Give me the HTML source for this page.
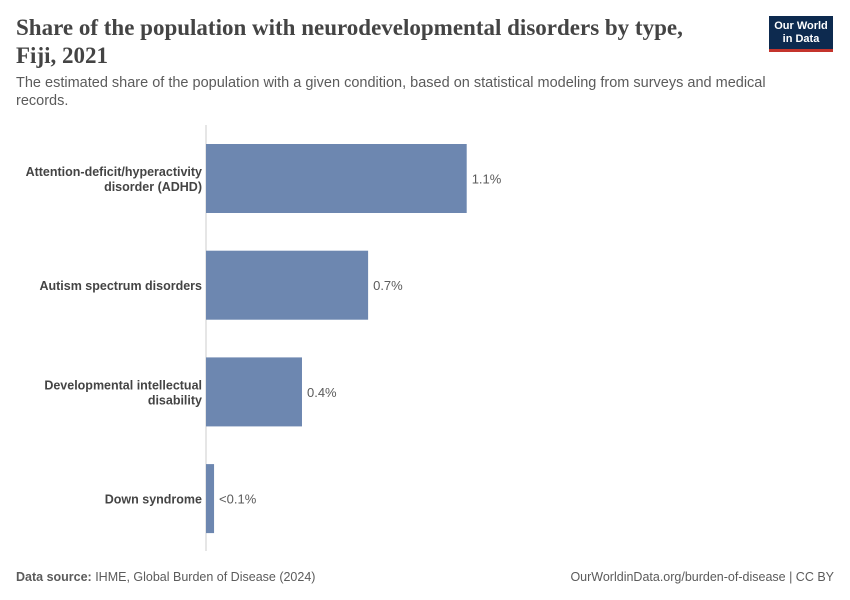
<!DOCTYPE html>
<html><head><meta charset="utf-8"><style>
body{margin:0;background:#fff;font-family:"Liberation Sans",sans-serif;}
#root{position:relative;width:850px;height:600px;overflow:hidden;}
.title{position:absolute;left:16px;top:14px;font-family:"Liberation Serif",serif;font-size:23px;color:#444;line-height:28px;font-weight:bold;}
.sub{position:absolute;left:16px;top:74px;width:790px;font-size:14.5px;color:#5b5b5b;line-height:18px;}
.logo{position:absolute;left:769px;top:16px;width:64px;height:36px;background:#0d2a4f;border-bottom:3px solid #c4342c;color:#fff;font-size:11px;font-weight:bold;text-align:center;line-height:13px;padding-top:4px;box-sizing:border-box;}
.foot{position:absolute;top:570px;font-size:12.5px;color:#5b5b5b;}
</style></head><body>
<div id="root">
<div class="title">Share of the population with neurodevelopmental disorders by type,<br>Fiji, 2021</div>
<div class="logo">Our World<br>in Data</div>
<div class="sub">The estimated share of the population with a given condition, based on statistical modeling from surveys and medical records.</div>
<svg id="chart" width="850" height="600" style="position:absolute;left:0;top:0"></svg>
<div class="foot" style="left:16px"><b>Data source:</b> IHME, Global Burden of Disease (2024)</div>
<div class="foot" style="right:16px">OurWorldinData.org/burden-of-disease | CC BY</div>
</div>
<script>
const categories=[["Attention-deficit/hyperactivity","disorder (ADHD)"],["Autism spectrum disorders"],["Developmental intellectual","disability"],["Down syndrome"]];
const values=[1.10,0.684,0.405,0.034];
const valueLabels=["1.1%","0.7%","0.4%","<0.1%"];
const NS="http://www.w3.org/2000/svg";
const svg=document.getElementById('chart');
const x0=206,pxPer=237;
function xs(v){return x0+v*pxPer;}
function ys(i){return 144+i*106.7;}
const bh=69;
function mk(t,a){const e=document.createElementNS(NS,t);for(const k in a)e.setAttribute(k,a[k]);svg.appendChild(e);return e;}
const ax=mk('line',{x1:x0,x2:x0,y1:125,y2:551,stroke:'#ccc','stroke-width':1});


values.forEach((v,i)=>{
 const y=ys(i);
 const r=mk('rect',{x:x0,y:y,width:xs(v)-x0,height:bh,fill:'#6d87b0'});
 
 
 const t=mk('text',{x:xs(v)+5,y:y+bh/2+5,'font-size':13,fill:'#5b5b5b','font-family':'Liberation Sans, sans-serif'});
 t.textContent=valueLabels[i];
 
 
 const lines=categories[i];
 lines.forEach((l,j)=>{
  const c=mk('text',{x:x0-4,y:y+bh/2+5+(j-(lines.length-1)/2)*15,'font-size':12.5,'font-weight':'bold',fill:'#444','text-anchor':'end','font-family':'Liberation Sans, sans-serif'});
  c.textContent=l;
  
  
 });
});
</script>
</body></html>
